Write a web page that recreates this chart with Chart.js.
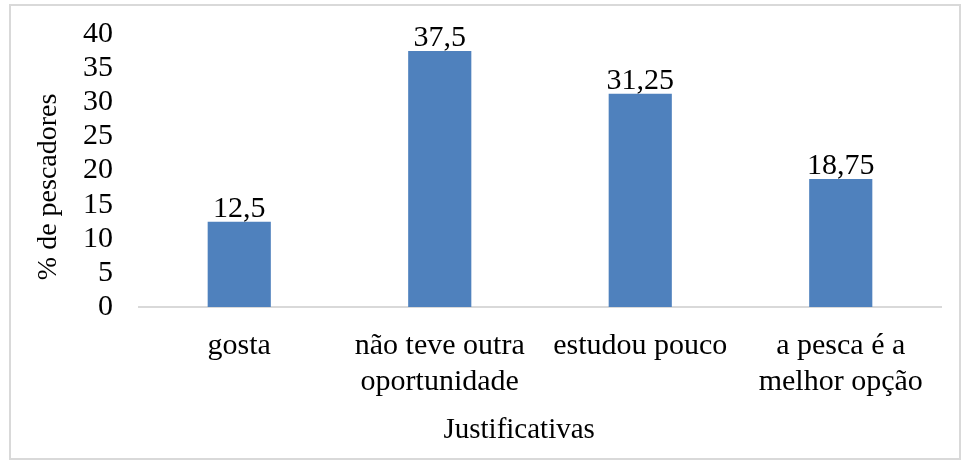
<!DOCTYPE html>
<html>
<head>
<meta charset="utf-8">
<script src="https://cdn.jsdelivr.net/npm/chart.js@4.4.1/dist/chart.umd.min.js"></script>
<style>
  html, body { margin: 0; padding: 0; background: #fff; }
  #wrap { position: relative; width: 963px; height: 461px; }
  #frame {
    position: absolute; left: 9px; top: 4px; width: 948px; height: 452px;
    border: 2px solid #d9d9d9; pointer-events: none;
  }
</style>
</head>
<body>
<div id="wrap">
  <canvas id="chart" width="963" height="461"></canvas>
  <div id="frame"></div>
</div>
<script>
// Data
const categories = ['gosta', ['não teve outra', 'oportunidade'], 'estudou pouco', ['a pesca é a', 'melhor opção']];
const percentages = [12.5, 37.5, 31.25, 18.75];
const yMin = 0, yMax = 40, yStep = 5;
const xTitle = 'Justificativas';
const yTitle = '% de pescadores';

const family = '"Liberation Serif", "Times New Roman", serif';
const font = { family: family, size: 30 };

// Value labels above bars + axis titles (placed like the original)
const labelsPlugin = {
  id: 'labelsPlugin',
  afterDatasetsDraw(chart) {
    const ctx = chart.ctx;
    const area = chart.chartArea;
    const meta = chart.getDatasetMeta(0);
    ctx.save();
    ctx.fillStyle = '#000';
    ctx.font = font.size + 'px ' + family;
    ctx.textAlign = 'center';
    ctx.textBaseline = 'alphabetic';
    meta.data.forEach(function(bar, i) {
      const txt = String(percentages[i]).replace('.', ',');
      ctx.fillText(txt, bar.x, bar.y - 5);
    });

    // x title
    ctx.font = '29px ' + family;
    ctx.fillText(xTitle, area.left + (area.right - area.left) * 0.474, 438);

    // y title
    ctx.font = '28px ' + family;
    ctx.translate(49, area.top + (area.bottom - area.top) * 0.56);
    ctx.rotate(-Math.PI / 2);
    ctx.textBaseline = 'middle';
    ctx.fillText(yTitle, 0, 0);
    ctx.restore();
  }
};

new Chart(document.getElementById('chart'), {
  type: 'bar',
  data: {
    labels: categories,
    datasets: [{
      data: percentages,
      backgroundColor: '#4F81BD',
      barPercentage: 0.315,
      categoryPercentage: 1
    }]
  },
  options: {
    responsive: false,
    animation: false,
    layout: { padding: { top: 34, right: 22, bottom: 0, left: 0 } },
    plugins: {
      legend: { display: false },
      tooltip: { enabled: false }
    },
    scales: {
      x: {
        grid: { display: false, drawTicks: false },
        border: { color: '#d9d9d9', width: 2 },
        ticks: { color: '#000', font: font, padding: 21, maxRotation: 0, autoSkip: false },
        afterFit: function(s) { s.height = 154; s.paddingLeft = 0; s.paddingRight = 0; }
      },
      y: {
        min: yMin,
        max: yMax,
        grid: { display: false, drawTicks: false },
        border: { display: false },
        ticks: { stepSize: yStep, autoSkip: false, color: '#000', font: font, padding: 26 },
        afterFit: function(s) { s.width = 139; s.paddingTop = 0; s.paddingBottom = 0; }
      }
    }
  },
  plugins: [labelsPlugin]
});
</script>
</body>
</html>
